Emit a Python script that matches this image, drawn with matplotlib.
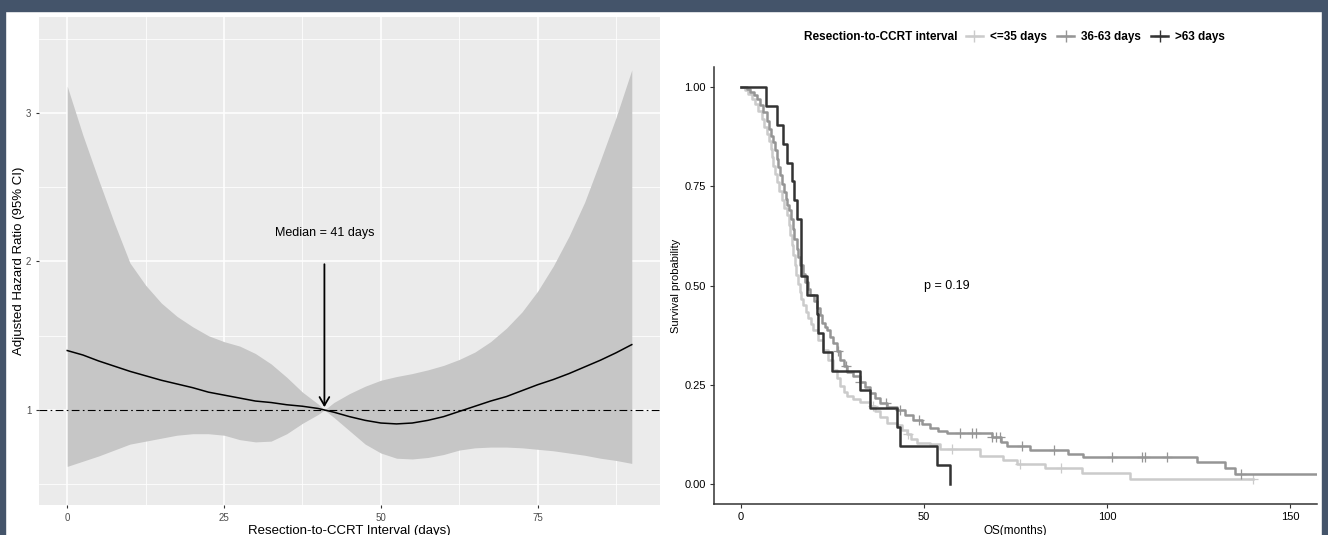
"""Restricted cubic spline HR plot + Kaplan-Meier curves by resection-to-CCRT interval."""

import matplotlib

matplotlib.use("Agg")
import matplotlib.pyplot as plt
import numpy as np
from matplotlib.lines import Line2D
from matplotlib.patches import Rectangle

plt.rcParams["font.family"] = ["Liberation Sans Narrow", "Liberation Sans", "DejaVu Sans"]

# ---- left panel: adjusted HR vs interval ----
interval_days = [0, 2.5, 5, 7.5, 10, 12.5, 15, 17.5, 20, 22.5, 25, 27.5, 30, 32.5, 35, 37.5, 40,
                 41, 42.5, 45, 47.5, 50, 52.5, 55, 57.5, 60, 62.5, 65, 67.5, 70, 72.5, 75, 77.5,
                 80, 82.5, 85, 87.5, 90]
hr = [1.40, 1.37, 1.33, 1.295, 1.26, 1.23, 1.20, 1.175, 1.15, 1.12, 1.10, 1.08, 1.06, 1.05,
      1.035, 1.025, 1.01, 1.00, 0.985, 0.955, 0.93, 0.912, 0.906, 0.912, 0.93, 0.955, 0.99,
      1.025, 1.06, 1.09, 1.13, 1.17, 1.205, 1.245, 1.29, 1.335, 1.385, 1.44]
hr_upper = [3.18, 2.85, 2.55, 2.26, 1.99, 1.84, 1.72, 1.63, 1.56, 1.50, 1.46, 1.43, 1.38, 1.31,
            1.22, 1.12, 1.04, 1.00, 1.05, 1.11, 1.16, 1.20, 1.225, 1.245, 1.27, 1.30, 1.34,
            1.39, 1.46, 1.55, 1.66, 1.80, 1.97, 2.17, 2.40, 2.68, 2.97, 3.29]
hr_lower = [0.62, 0.655, 0.69, 0.73, 0.77, 0.79, 0.81, 0.83, 0.84, 0.84, 0.83, 0.80, 0.785,
            0.79, 0.84, 0.91, 0.97, 1.00, 0.95, 0.86, 0.77, 0.71, 0.675, 0.67, 0.68, 0.70,
            0.73, 0.745, 0.75, 0.75, 0.745, 0.735, 0.725, 0.71, 0.695, 0.675, 0.66, 0.64]
median_days = 41

# ---- right panel: Kaplan-Meier ----
groups = ["<=35 days", "36-63 days", ">63 days"]
colors = {"<=35 days": "#cbcbcb", "36-63 days": "#959595", ">63 days": "#333333"}

t_short = [0, 1, 2, 2.9, 3.8, 4.7, 5.6, 6.3, 7.0, 7.6, 8.1, 8.5, 8.8, 9.3, 9.75, 10.4, 11.1,
           11.8, 12.5, 13.0, 13.4, 13.9, 14.3, 14.7, 15.0, 15.6, 16.1, 16.5, 17.0, 17.7, 18.4,
           19.1, 19.75, 21.1, 22.5, 23.8, 25.2, 26.1, 27.0, 28.0, 28.9, 30.5, 32.5, 35.2, 36.5,
           38.0, 39.8, 42.5, 44.0, 45.3, 46.5, 48.0, 51.6, 54.4, 65.3, 71.7, 75.3, 83.0, 93.1,
           106.3, 140.0]
s_short = [1.0, 0.993, 0.982, 0.97, 0.957, 0.94, 0.92, 0.9, 0.882, 0.863, 0.844, 0.823, 0.802,
           0.78, 0.76, 0.737, 0.714, 0.695, 0.677, 0.652, 0.627, 0.602, 0.577, 0.551, 0.526,
           0.505, 0.484, 0.467, 0.451, 0.434, 0.417, 0.402, 0.388, 0.363, 0.338, 0.313, 0.288,
           0.267, 0.246, 0.233, 0.221, 0.214, 0.208, 0.196, 0.185, 0.17, 0.154, 0.15, 0.137,
           0.125, 0.114, 0.104, 0.1, 0.0885, 0.0718, 0.0618, 0.0517, 0.041, 0.028, 0.0133, 0.0133]
cens_short = [36.0, 45.5, 57.7, 76.3, 87.3, 140.0]

t_mid = [0, 1.5, 2.5, 3.5, 4.3, 5.2, 6.1, 7.0, 7.7, 8.3, 8.8, 9.3, 9.75, 10.2, 10.7, 11.2, 11.7,
         12.2, 12.65, 13.2, 13.6, 14.1, 14.6, 15.2, 15.6, 16.1, 16.8, 17.5, 18.2, 18.9, 19.8,
         20.7, 21.6, 22.2, 22.8, 23.4, 24.3, 25.2, 26.1, 27.0, 28.0, 28.9, 30.5, 32.5, 33.8,
         35.2, 36.5, 38.0, 40.0, 42.5, 44.8, 47.1, 49.5, 51.6, 53.8, 56.2, 68.5, 71.0, 72.6,
         79.0, 89.4, 93.5, 124.5, 132.2, 135.0, 160.0]
s_mid = [1.0, 0.995, 0.988, 0.98, 0.97, 0.955, 0.936, 0.915, 0.894, 0.877, 0.861, 0.84, 0.819,
         0.798, 0.777, 0.756, 0.735, 0.718, 0.702, 0.69, 0.668, 0.643, 0.618, 0.593, 0.572,
         0.551, 0.53, 0.509, 0.492, 0.476, 0.46, 0.443, 0.425, 0.405, 0.395, 0.388, 0.371,
         0.355, 0.334, 0.313, 0.298, 0.283, 0.272, 0.258, 0.244, 0.229, 0.216, 0.204, 0.195,
         0.187, 0.175, 0.162, 0.151, 0.141, 0.135, 0.129, 0.119, 0.107, 0.095, 0.085, 0.077,
         0.0685, 0.056, 0.041, 0.0266, 0.0266]
cens_mid = [26.5, 28.7, 32.5, 39.7, 43.5, 48.5, 59.9, 63.2, 64.3, 68.7, 69.8, 70.9, 76.9,
            85.6, 101.5, 109.7, 110.3, 116.3, 136.5]

t_long = [0, 6.9, 9.7, 11.4, 12.6, 13.8, 14.6, 15.4, 16.3, 18.1, 20.7, 21.0, 22.5, 24.8,
          32.5, 35.2, 42.5, 43.4, 53.5, 57.1]
n_at_risk_long = [21, 20, 19, 18, 17, 16, 15, 14, 11, 10, 9, 8, 7, 6, 5, 4, 3, 2, 1, 0]
s_long = [n / 21 for n in n_at_risk_long]
cens_long = []

km = {
    "<=35 days": (t_short, s_short, cens_short),
    "36-63 days": (t_mid, s_mid, cens_mid),
    ">63 days": (t_long, s_long, cens_long),
}

W, H = 1328, 535
fig = plt.figure(figsize=(W / 100, H / 100), dpi=100)
frame = "#44546a"
fig.patches.append(Rectangle((0, 1 - 11 / H), 1, 11 / H, transform=fig.transFigure, color=frame, zorder=10))
fig.patches.append(Rectangle((0, 0), 5 / W, 1, transform=fig.transFigure, color=frame, zorder=10))
fig.patches.append(Rectangle((1322 / W, 0), 6 / W, 1, transform=fig.transFigure, color=frame, zorder=10))

# ---------------- left ----------------
ax1 = fig.add_axes([39 / W, 1 - 505 / H, 621 / W, 488 / H])
ax1.set_facecolor("#ebebeb")
for s in ax1.spines.values():
    s.set_visible(False)
ax1.set_xlim(-4.5, 94.5)
ax1.set_ylim(0.36, 3.646)
ax1.set_xticks([0, 25, 50, 75])
ax1.set_yticks([1, 2, 3])
ax1.set_xticks([12.5, 37.5, 62.5, 87.5], minor=True)
ax1.set_yticks([0.5, 1.5, 2.5, 3.5], minor=True)
ax1.grid(True, which="major", color="white", lw=1.1)
ax1.grid(True, which="minor", color="white", lw=0.55)
ax1.set_axisbelow(True)
ax1.tick_params(which="major", length=2.5, width=0.8, color="#333333", labelsize=7,
                labelcolor="#4d4d4d", pad=3)
ax1.tick_params(which="minor", length=0)
ax1.fill_between(interval_days, hr_lower, hr_upper, color="#c6c6c6", lw=0, zorder=2)
ax1.plot(interval_days, hr, color="black", lw=1.1, zorder=3)
ax1.axhline(1, color="black", lw=0.8, ls=(0, (7, 3, 1.5, 3)), zorder=3)
ax1.annotate("", xy=(median_days, 1.0), xytext=(median_days, 2.0),
             arrowprops=dict(arrowstyle="->,head_width=0.35,head_length=0.6", color="black", lw=1.3),
             zorder=4)
ax1.text(median_days, 2.19, f"Median = {median_days} days", ha="center", va="center", fontsize=9)
ax1.set_xlabel("Resection-to-CCRT Interval (days)", fontsize=9.5, labelpad=2)
ax1.set_ylabel("Adjusted Hazard Ratio (95% CI)", fontsize=9.5, labelpad=0.5)

# ---------------- right ----------------
ax2 = fig.add_axes([714 / W, 1 - 504 / H, 603 / W, 437 / H])
ax2.set_xlim(-7.4, 157.4)
ax2.set_ylim(-0.05, 1.05)
for side in ["top", "right"]:
    ax2.spines[side].set_visible(False)
for side in ["left", "bottom"]:
    ax2.spines[side].set_color("#333333")
    ax2.spines[side].set_linewidth(1.1)
ax2.set_xticks([0, 50, 100, 150])
ax2.set_yticks([0, 0.25, 0.5, 0.75, 1.0])
ax2.set_yticklabels([f"{v:.2f}" for v in [0, 0.25, 0.5, 0.75, 1.0]])
ax2.tick_params(length=3, width=0.8, color="#333333", labelsize=8, labelcolor="black", pad=3)

for g in groups:
    t, s, c = km[g]
    ax2.step(t, s, where="post", color=colors[g], lw=1.8, zorder=3 if g == ">63 days" else 2)
    if c:
        idx = np.searchsorted(t, c, side="right") - 1
        ax2.plot(c, np.asarray(s)[idx], ls="none", marker="+", ms=7, mew=0.9,
                 color=colors[g], zorder=2)

ax2.text(50, 0.50, "p = 0.19", ha="left", va="center", fontsize=9)
ax2.set_xlabel("OS(months)", fontsize=8.5, labelpad=2)
ax2.set_ylabel("Survival probability", fontsize=8, labelpad=2.5)

handles = [Line2D([], [], color=colors[g], lw=1.8, marker="+", ms=8, mew=1.0) for g in groups]
fig.text(957 / W, 1 - 37 / H, "Resection-to-CCRT interval", ha="right", va="center",
         fontsize=8.5, fontweight="bold")
fig.legend(handles, groups, loc="center left", bbox_to_anchor=(966 / W, 1 - 37 / H), ncol=3,
           frameon=False, prop=dict(size=8.5, weight="bold"), handlelength=1.4,
           handletextpad=0.6, columnspacing=0.9, borderpad=0, borderaxespad=0)

fig.savefig("out.png", dpi=100)
